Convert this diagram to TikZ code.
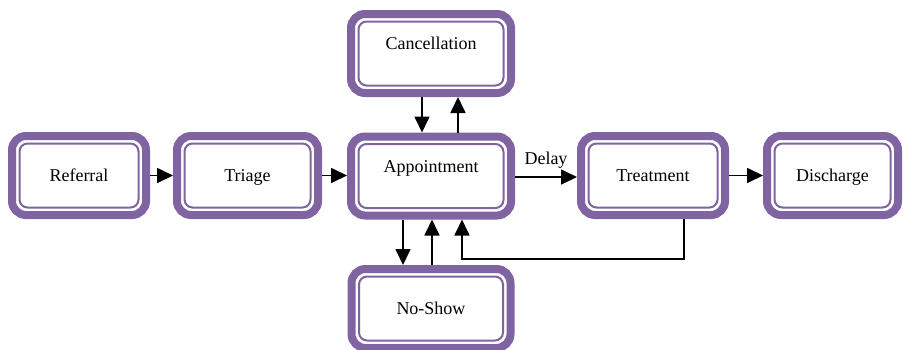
\documentclass[tikz,border=0pt]{standalone}
\usepackage{fontspec}
\setmainfont{Liberation Serif}
\usetikzlibrary{arrows.meta}
\definecolor{pur}{HTML}{8064A2}
\begin{document}
\begin{tikzpicture}[x=1pt,y=-1pt,
  box/.style={draw=pur, fill=white, line width=8pt, rounded corners=14pt,
    minimum width=#1, minimum height=79pt, inner sep=0pt,
    font=\fontsize{18}{20}\selectfont, text height=12pt, text depth=0pt,
    path picture={\draw[pur, line width=2pt, rounded corners=8pt]
      ([shift={(7.5pt,-7.5pt)}]path picture bounding box.north west) rectangle
      ([shift={(-7.5pt,7.5pt)}]path picture bounding box.south east);}},
  raised/.style={text depth=20pt},
  arr/.style={line width=1.7pt, draw=black, -{Triangle[length=16pt,width=15pt]}},
  lbl/.style={font=\fontsize{18}{20}\selectfont, inner sep=2pt}
]
\useasboundingbox (0,0) rectangle (903,349);
\node[box=134pt] (ref) at (79,175.5) {Referral};
\node[box=141pt] (tri) at (247.5,175.5) {Triage};
\node[box=160pt, raised] (app) at (431,176) {Appointment};
\node[box=160pt, raised] (can) at (431,53.5) {Cancellation};
\node[box=159pt] (nos) at (431,308.5) {No-Show};
\node[box=144pt] (tre) at (653,175.5) {Treatment};
\node[box=131pt] (dis) at (832.5,175.5) {Discharge};

\draw[arr] (ref.east) -- (ref.east -| tri.west);
\draw[arr] (tri.east) -- (tri.east -| app.west);
\draw[arr] ([yshift=-1pt]app.east) -- node[lbl, above=6pt] {Delay} ([yshift=-1pt]app.east -| tre.west);
\draw[arr] (tre.east) -- (tre.east -| dis.west);

\draw[arr] ([xshift=-9pt]can.south) -- ([xshift=-9pt]app.north);
\draw[arr] ([xshift=27pt]app.north) -- ([xshift=27pt]can.south);

\draw[arr] ([xshift=-28pt]app.south) -- ([xshift=-28pt]nos.north);
\draw[arr] ([xshift=1pt]nos.north) -- ([xshift=1pt]app.south);

\draw[arr] ([xshift=31pt]tre.south) -- ++(0,40) -| ([xshift=31pt]app.south);
\end{tikzpicture}
\end{document}
